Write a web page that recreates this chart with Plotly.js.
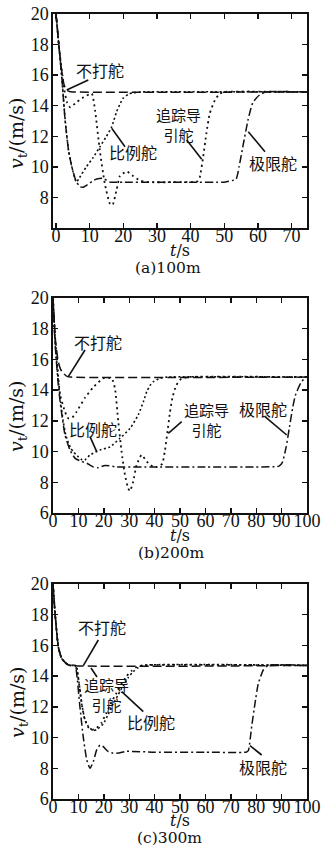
<!DOCTYPE html>
<html><head><meta charset="utf-8">
<script src="https://cdn.plot.ly/plotly-3.0.1.min.js"></script>
<style>body{margin:0;padding:0;background:#fff}#chart{width:330px;height:855px}</style>
</head><body><div id="chart"></div>
<script>
// ---------- data (a) 100m ----------
const tA_none = [0, 0.5, 1, 1.5, 2, 2.5, 3, 4, 5, 75];
const vA_none = [20, 18.8, 17.6, 16.6, 15.8, 15.3, 15.05, 14.93, 14.9, 14.9];
const tA_prop = [0, 1, 1.7, 2.7, 3.7, 4.7, 5.5, 6.1, 7, 9, 11, 13, 15, 16.5, 18, 19, 20, 21.5, 23, 25, 75];
const vA_prop = [20, 17.6, 15.9, 13.1, 11.1, 10.0, 9.3, 9.0, 9.3, 10.0, 10.6, 11.3, 12.0, 12.6, 13.6, 14.1, 14.5, 14.75, 14.85, 14.9, 14.9];
const tA_pursuit = [0, 1, 2, 2.5, 3.3, 4.2, 6.2, 8.2, 10.6, 11.6, 13, 14.5, 16, 16.8, 18, 19, 21, 22.9, 25, 28, 35, 42, 42.7, 43.7, 44.7, 45.7, 47.2, 48.7, 50, 75];
const vA_pursuit = [20, 17.6, 15.8, 15.0, 14.2, 13.9, 14.25, 14.55, 14.8, 13.7, 11.1, 8.9, 7.6, 7.5, 8.5, 9.4, 9.7, 9.4, 9.1, 9.0, 9.0, 9.05, 9.3, 10.6, 12.2, 13.5, 14.35, 14.8, 14.9, 14.9];
const tA_limit = [0, 1, 1.7, 2.7, 3.7, 4.7, 5.9, 7.1, 8.1, 9.1, 11.1, 12.1, 14, 16, 20, 30, 40, 50, 53.5, 54.4, 55.6, 57.1, 58.5, 60.5, 62.5, 75];
const vA_limit = [20, 17.6, 15.9, 13.05, 11.1, 10.0, 9.1, 8.7, 8.67, 8.8, 9.1, 9.2, 9.25, 9.0, 9.0, 9.0, 9.0, 9.0, 9.2, 10.0, 11.4, 13.1, 14.2, 14.7, 14.9, 14.9];

// ---------- data (b) 200m ----------
const tB_none = [0, 0.5, 1, 1.5, 2, 3, 4, 5.5, 7, 100];
const vB_none = [20, 18.5, 17.2, 16.5, 15.9, 15.35, 15.1, 14.9, 14.85, 14.85];
const tB_prop = [0, 0.5, 1, 2, 3, 4, 5, 6, 7, 8, 9, 10, 11.5, 12.5, 14.6, 18.5, 22.4, 26.4, 30.3, 33.6, 35.6, 36.9, 38.2, 39.5, 42.1, 45, 100];
const vB_prop = [20, 18.3, 16.8, 14.8, 13.2, 12.0, 11.1, 10.6, 10.2, 10.0, 9.8, 9.65, 9.45, 9.45, 9.78, 10.1, 10.3, 10.87, 11.5, 12.4, 13.25, 13.9, 14.3, 14.55, 14.77, 14.85, 14.85];
const tB_pursuit = [0, 0.5, 1, 2, 2.8, 4.7, 6, 7.5, 9.3, 12.6, 15.9, 19.8, 23.1, 24.4, 25.7, 27, 28.3, 29.6, 30.3, 31.6, 32.9, 34.9, 36.9, 39.5, 41, 43, 44, 45, 46, 47, 48.5, 50.5, 53, 100];
const vB_pursuit = [20, 18.3, 17.0, 15.0, 13.7, 12.6, 12.17, 12.2, 12.6, 13.5, 14.2, 14.77, 14.77, 14.1, 11.95, 10.0, 8.5, 7.6, 7.43, 8.05, 9.13, 9.78, 9.35, 9.0, 9.0, 9.2, 10.0, 11.2, 12.5, 13.5, 14.3, 14.75, 14.85, 14.85];
const tB_limit = [0, 0.5, 1, 2, 2.8, 4.7, 6.7, 8.7, 11.3, 13.3, 15.9, 17.8, 20.5, 25, 40, 60, 80, 89, 90.3, 91.8, 93, 94.3, 95.4, 97.5, 99.5, 100];
const vB_limit = [20, 18.0, 16.6, 14.5, 13.25, 11.1, 10.1, 9.56, 9.35, 9.24, 9.0, 8.95, 9.1, 9.0, 9.0, 9.0, 9.0, 9.05, 9.3, 10.3, 11.5, 12.8, 13.65, 14.45, 14.85, 14.85];

// ---------- data (c) 300m ----------
const tC_none = [0, 0.8, 1.5, 2.1, 3.4, 5.4, 6.7, 100];
const vC_none = [20, 18.1, 16.8, 15.9, 15.15, 14.8, 14.7, 14.7];
const tC_prop = [0, 0.8, 1.5, 2.1, 3.4, 5.4, 6.7, 8.7, 9.3, 10.3, 11.3, 12.6, 14, 15.9, 17.5, 19.8, 21.7, 23.7, 25.7, 27.7, 29.6, 31.6, 33.5, 35.5, 100];
const vC_prop = [20, 18.1, 16.8, 15.9, 15.15, 14.8, 14.7, 14.7, 14.6, 13.5, 12.2, 11.15, 10.7, 10.45, 10.55, 10.9, 11.5, 12.2, 12.8, 13.4, 13.9, 14.3, 14.55, 14.7, 14.7];
const tC_pursuit = [0, 0.8, 1.5, 2.1, 3.4, 5.4, 6.7, 8.7, 9.5, 10.5, 11.5, 12.5, 14, 15.5, 17, 19, 21, 23, 25, 27, 29, 31, 33, 35, 100];
const vC_pursuit = [20, 18.1, 16.8, 15.9, 15.15, 14.8, 14.7, 14.7, 14.3, 13.2, 12.0, 11.2, 10.65, 10.5, 10.6, 10.95, 11.6, 12.3, 12.9, 13.5, 14.0, 14.35, 14.6, 14.7, 14.7];
const tC_limit = [0, 0.8, 1.5, 2.1, 3.4, 5.4, 6.7, 8.7, 9.3, 10.6, 11.9, 13.3, 14.6, 15.9, 17.2, 18.5, 19.5, 21.8, 23.7, 26, 29, 40, 60, 76, 76.9, 78.2, 79.5, 80.8, 82.8, 84.8, 100];
const vC_limit = [20, 18.1, 16.8, 15.9, 15.15, 14.8, 14.7, 14.7, 14.2, 12.0, 10.05, 8.55, 8.0, 8.45, 9.2, 9.5, 9.45, 9.08, 8.98, 9.0, 9.1, 9.05, 9.05, 9.05, 9.15, 10.7, 12.2, 13.5, 14.4, 14.7, 14.7];

const seriesNames = ['不打舵', '比例舵', '追踪导引舵', '极限舵'];
const pursuitLabel = '追踪导<br>引舵';
const panelTitles = ['(a)100m', '(b)200m', '(c)300m'];
const xTicksA = [0, 10, 20, 30, 40, 50, 60, 70];
const xTicksBC = [0, 10, 20, 30, 40, 50, 60, 70, 80, 90, 100];
const yTicksA = [8, 10, 12, 14, 16, 18, 20];
const yTicksBC = [6, 8, 10, 12, 14, 16, 18, 20];

// ---------- layout helpers ----------
const W = 330, H = 855, ML = 53, MR = 23;
const xp = px => (px - ML) / (W - ML - MR);
const yp = py => 1 - py / H;

const styles = [
  {dash: '9px,4px', width: 1.5},
  {dash: '2px,2.5px', width: 1.6},
  {dash: '2px,3.5px', width: 1.8},
  {dash: '8px,3px,2px,3px', width: 1.5}
];

const panels = [
  {t: [tA_none, tA_prop, tA_pursuit, tA_limit], v: [vA_none, vA_prop, vA_pursuit, vA_limit]},
  {t: [tB_none, tB_prop, tB_pursuit, tB_limit], v: [vB_none, vB_prop, vB_pursuit, vB_limit]},
  {t: [tC_none, tC_prop, tC_pursuit, tC_limit], v: [vC_none, vC_prop, vC_pursuit, vC_limit]}
];

const traces = [];
panels.forEach((p, i) => {
  const sfx = i === 0 ? '' : String(i + 1);
  for (let k = 0; k < 4; k++) {
    traces.push({
      type: 'scatter', mode: 'lines', name: seriesNames[k],
      x: p.t[k], y: p.v[k], xaxis: 'x' + sfx, yaxis: 'y' + sfx,
      line: {color: '#111', width: styles[k].width, dash: styles[k].dash, shape: 'spline', smoothing: 0.5},
      showlegend: false, hoverinfo: 'skip'
    });
  }
});

const serif = 'Liberation Serif, Times New Roman, serif';
const cjk = 'Noto Sans CJK SC, sans-serif';
const tickFont = {family: serif, size: 18, color: '#111'};

function xAxis(range, vals, anchor) {
  return {range: range, tickmode: 'array', tickvals: vals, ticktext: vals.map(String), tickangle: 0,
    showline: true, mirror: 'ticks', linecolor: '#111', linewidth: 1.6, ticks: 'inside', ticklen: 5,
    tickwidth: 1.4, tickcolor: '#111', showgrid: false, zeroline: false, tickfont: tickFont,
    ticklabelstandoff: -9,
    anchor: anchor, domain: [0, 1], fixedrange: true};
}
function yAxis(vals, dom, anchor) {
  return {range: [6, 20], tickmode: 'array', tickvals: vals, ticktext: vals.map(String),
    showline: true, mirror: 'ticks', linecolor: '#111', linewidth: 1.6, ticks: 'inside', ticklen: 5,
    tickwidth: 1.4, tickcolor: '#111', showgrid: false, zeroline: false, tickfont: tickFont,
    ticklabelstandoff: -1,
    anchor: anchor, domain: dom, fixedrange: true};
}

const plotTops = [14, 298, 584], plotBots = [228, 513, 799];
const yTitleY = [134, 417, 703];
const xTitleY = [250, 535, 820];
const subY = [268, 553, 838];
const subX = [168, 171, 169];

const annotations = [];
const shapes = [];
function txt(text, px, py, size, family, extra) {
  annotations.push(Object.assign({text: text, x: xp(px), y: yp(py), xref: 'paper', yref: 'paper',
    showarrow: false, xanchor: 'center', yanchor: 'middle', align: 'center',
    font: {family: family, size: size, color: '#111'}}, extra || {}));
}
function ptr(x0, y0, x1, y1) {
  shapes.push({type: 'line', xref: 'paper', yref: 'paper', x0: xp(x0), y0: yp(y0), x1: xp(x1), y1: yp(y1),
    line: {color: '#111', width: 1.6}});
}

for (let i = 0; i < 3; i++) {
  txt('<i>v</i><sub>t</sub>/(m/s)', 18, yTitleY[i], 19, 'DejaVu Serif, serif', {textangle: -90});
  txt('<i>t</i>/s', 180, xTitleY[i], 16, 'DejaVu Serif, serif');
  txt(panelTitles[i], subX[i], subY[i], 15.5, 'DejaVu Serif, serif');
}

// labels (a)
txt(seriesNames[0], 100, 70, 16, cjk);
txt(seriesNames[1], 132.5, 152, 16, cjk);
txt(pursuitLabel, 178, 124.5, 15, cjk);
txt(seriesNames[3], 272.5, 163, 16, cjk);
ptr(66.7, 90, 88.3, 80); ptr(111.7, 128.3, 125, 146.7); ptr(186.7, 140, 201.7, 159.3); ptr(248.3, 131.7, 265, 151.7);
// labels (b)
txt(seriesNames[0], 98, 342, 16, cjk);
txt(seriesNames[1], 93.3, 429, 16, cjk);
txt(pursuitLabel, 206.5, 419, 15, cjk);
txt(seriesNames[3], 262.5, 409, 16, cjk);
ptr(68.3, 376.7, 85, 350); ptr(96.7, 451.7, 90, 436.7); ptr(168.3, 433.3, 181.7, 421.7); ptr(265, 416.7, 286.7, 435);
// labels (c)
txt(seriesNames[0], 102, 627, 16, cjk);
txt(pursuitLabel, 106, 694, 15, cjk);
txt(seriesNames[1], 151, 722, 16, cjk);
txt(seriesNames[3], 262.5, 767, 16, cjk);
ptr(83.3, 665.7, 98.3, 640); ptr(91, 668, 97, 677); ptr(121.7, 691.7, 143.3, 711.7); ptr(250, 745.7, 261.7, 755);

const layout = {
  width: W, height: H, margin: {l: ML, r: MR, t: 0, b: 0, pad: 0},
  paper_bgcolor: '#fff', plot_bgcolor: '#fff', showlegend: false,
  xaxis: xAxis([-0.9, 74.6], xTicksA, 'y'),
  yaxis: yAxis(yTicksA, [yp(plotBots[0]), yp(plotTops[0])], 'x'),
  xaxis2: xAxis([0, 100], xTicksBC, 'y2'),
  yaxis2: yAxis(yTicksBC, [yp(plotBots[1]), yp(plotTops[1])], 'x2'),
  xaxis3: xAxis([0, 100], xTicksBC, 'y3'),
  yaxis3: yAxis(yTicksBC, [yp(plotBots[2]), yp(plotTops[2])], 'x3'),
  annotations: annotations, shapes: shapes
};

Plotly.newPlot('chart', traces, layout, {staticPlot: true, displayModeBar: false});
</script></body></html>
